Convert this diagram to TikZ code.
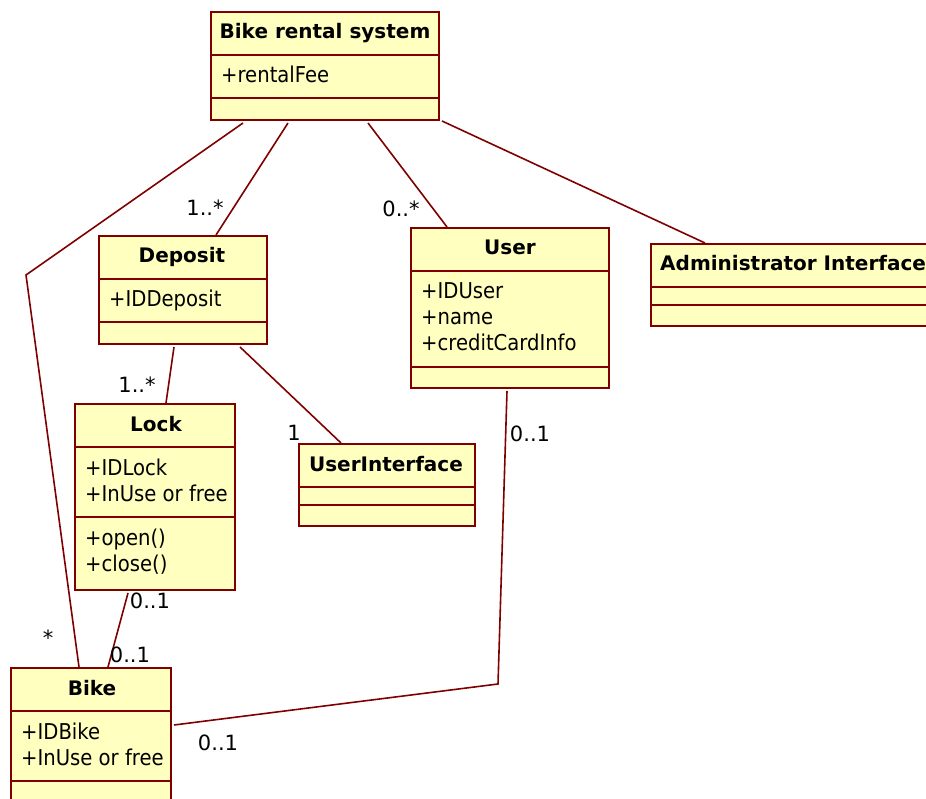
\documentclass[tikz,border=0pt]{standalone}
\usepackage{fontspec}
\setmainfont{DejaVu Sans}
\newfontfamily\condfont{DejaVu Sans Condensed}
\definecolor{umlborder}{RGB}{128,0,0}
\definecolor{umlfill}{RGB}{255,255,192}
\begin{document}
\begin{tikzpicture}[x=1pt,y=-1pt,
  cls/.style={draw=umlborder,fill=umlfill,line width=2pt,anchor=north west,inner sep=0pt,rectangle},
  sep/.style={draw=umlborder,line width=2pt},
  conn/.style={draw=umlborder,line width=1.6pt},
  ttl/.style={font=\fontsize{20}{24}\selectfont\bfseries,inner sep=0pt,anchor=base},
  attr/.style={font=\condfont\fontsize{21.8}{24}\selectfont,inner sep=0pt,anchor=base west},
  mult/.style={font=\fontsize{21}{24}\selectfont,inner sep=0pt}]
\useasboundingbox (0,0) rectangle (926,799);
\fill[white] (0,0) rectangle (926,799);

% Bike rental system
\node[cls,minimum width=228pt,minimum height=108pt] (brs) at (210,11) {};
\draw[sep] (210,55) -- (440,55);
\draw[sep] (210,98) -- (440,98);
\node[ttl] (brst) at (325,39) {Bike rental system};
\node[attr] (brsa) at (221,83) {+rentalFee};

% Deposit
\node[cls,minimum width=168pt,minimum height=108pt] (dep) at (98,235) {};
\draw[sep] (98,279) -- (268,279);
\draw[sep] (98,322) -- (268,322);
\node[ttl] (dept) at (182,263) {Deposit};
\node[attr] (depa) at (109,307) {+IDDeposit};

% User
\node[cls,minimum width=198pt,minimum height=160pt] (usr) at (410,227) {};
\draw[sep] (410,271) -- (610,271);
\draw[sep] (410,367) -- (610,367);
\node[ttl] (usrt) at (510,255) {User};
\node[attr] (usra1) at (421,299) {+IDUser};
\node[attr] (usra2) at (421,325) {+name};
\node[attr] (usra3) at (421,351) {+creditCardInfo};

% Administrator Interface
\node[cls,minimum width=300pt,minimum height=82pt] (adm) at (650,243) {};
\draw[sep] (650,287) -- (950,287);
\draw[sep] (650,305) -- (950,305);
\node[attr,font=\fontsize{20}{24}\selectfont\bfseries] (admt) at (660,271) {Administrator Interface};

% Lock
\node[cls,minimum width=160pt,minimum height=186pt] (lck) at (74,403) {};
\draw[sep] (74,447) -- (236,447);
\draw[sep] (74,517) -- (236,517);
\node[ttl] (lckt) at (156,431) {Lock};
\node[attr] (lcka1) at (85,475) {+IDLock};
\node[attr] (lcka2) at (85,501) {+InUse or free};
\node[attr] (lckm1) at (85,545) {+open()};
\node[attr] (lckm2) at (85,571) {+close()};

% UserInterface
\node[cls,minimum width=176pt,minimum height=82pt] (ui) at (298,443) {};
\draw[sep] (298,487) -- (476,487);
\draw[sep] (298,505) -- (476,505);
\node[ttl] (uit) at (386,471) {UserInterface};

% Bike
\node[cls,minimum width=160pt,minimum height=150pt] (bke) at (10,667) {};
\draw[sep] (10,711) -- (172,711);
\draw[sep] (10,781) -- (172,781);
\node[ttl] (bket) at (92,695) {Bike};
\node[attr] (bkea1) at (21,739) {+IDBike};
\node[attr] (bkea2) at (21,765) {+InUse or free};

% connectors
\coordinate (bend1) at (26,275);
\coordinate (bend2) at (498,684);
\draw[conn] ([xshift=33pt,yshift=-2pt]brs.south west) -- (bend1) -- ([xshift=69pt]bke.north west);
\draw[conn] ([xshift=78pt,yshift=-2pt]brs.south west) -- ([xshift=118pt]dep.north west);
\draw[conn] ([xshift=158pt,yshift=-2pt]brs.south west) -- ([xshift=37pt]usr.north west);
\draw[conn] ([xshift=2pt]brs.south east) -- ([xshift=55pt]adm.north west);
\draw[conn] ([xshift=76pt,yshift=-2pt]dep.south west) -- ([xshift=92pt]lck.north west);
\draw[conn] ([xshift=142pt,yshift=-2pt]dep.south west) -- ([xshift=43pt]ui.north west);
\draw[conn] ([xshift=54pt,yshift=-2pt]lck.south west) -- ([xshift=98pt]bke.north west);
\draw[conn] ([xshift=97pt,yshift=-2pt]usr.south west) -- (bend2) -- ([xshift=2pt,yshift=-58pt]bke.north east);

% multiplicities
\node[mult] (m1) at (205,208) {1..*};
\node[mult] (m2) at (401,209) {0..*};
\node[mult] (m3) at (48,638) {*};
\node[mult] (m4) at (137,385) {1..*};
\node[mult] (m5) at (294,433) {1};
\node[mult] (m6) at (150,601) {0..1};
\node[mult] (m7) at (130,655) {0..1};
\node[mult] (m8) at (530,434) {0..1};
\node[mult] (m9) at (218,743) {0..1};
\end{tikzpicture}
\end{document}
